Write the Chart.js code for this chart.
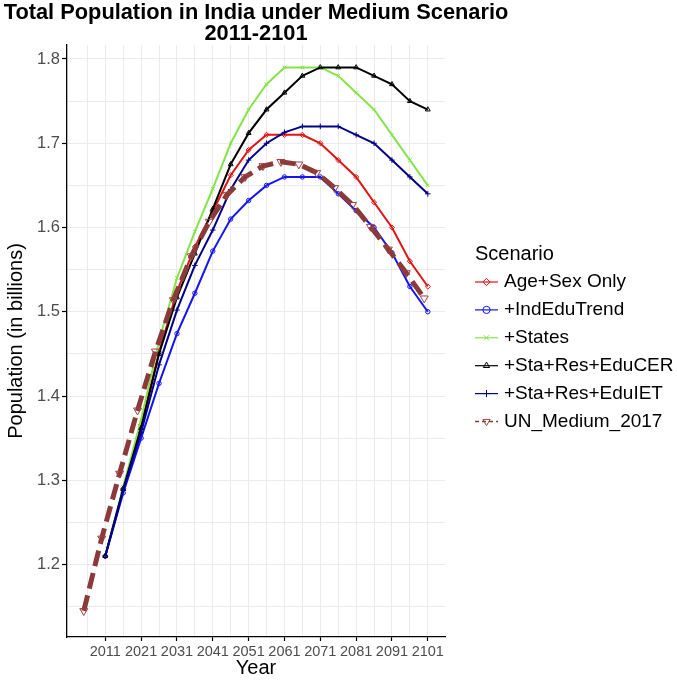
<!DOCTYPE html>
<html>
<head>
<meta charset="utf-8">
<script src="https://cdn.jsdelivr.net/npm/chart.js@4/dist/chart.umd.min.js"></script>
<style>
  html, body { margin: 0; padding: 0; background: #ffffff; }
  #c { display: block; }
</style>
</head>
<body>
<canvas id="c" width="677" height="680"></canvas>
<script>
// ---------- data ----------
const titleLines = ['Total Population in India under Medium Scenario', '2011-2101'];
const xAxisTitle = 'Year';
const yAxisTitle = 'Population (in billions)';
const legendTitle = 'Scenario';
const seriesNames = ['Age+Sex Only', '+IndEduTrend', '+States', '+Sta+Res+EduCER', '+Sta+Res+EduIET', 'UN_Medium_2017'];

const modelYears = [2011, 2016, 2021, 2026, 2031, 2036, 2041, 2046, 2051, 2056, 2061, 2066, 2071, 2076, 2081, 2086, 2091, 2096, 2101];
const unYears    = [2005, 2010, 2015, 2020, 2025, 2030, 2035, 2040, 2045, 2050, 2055, 2060, 2065, 2070, 2075, 2080, 2085, 2090, 2095, 2100];

const ageSexOnly  = [1.21, 1.29, 1.366, 1.452, 1.524, 1.577, 1.619, 1.662, 1.692, 1.71, 1.71, 1.71, 1.70, 1.68, 1.66, 1.63, 1.60, 1.56, 1.53];
const indEduTrend = [1.21, 1.285, 1.35, 1.415, 1.474, 1.522, 1.572, 1.61, 1.632, 1.65, 1.66, 1.66, 1.66, 1.64, 1.62, 1.60, 1.57, 1.53, 1.50];
const states      = [1.21, 1.292, 1.372, 1.465, 1.54, 1.595, 1.646, 1.70, 1.74, 1.77, 1.79, 1.79, 1.79, 1.78, 1.76, 1.74, 1.71, 1.68, 1.65];
const staResCER   = [1.21, 1.29, 1.362, 1.45, 1.517, 1.569, 1.622, 1.675, 1.712, 1.74, 1.76, 1.78, 1.79, 1.79, 1.79, 1.78, 1.77, 1.75, 1.74];
const staResIET   = [1.21, 1.288, 1.357, 1.437, 1.502, 1.555, 1.597, 1.645, 1.68, 1.70, 1.713, 1.72, 1.72, 1.72, 1.71, 1.70, 1.68, 1.66, 1.64];
const unMedium    = [1.145, 1.231, 1.308, 1.383, 1.453, 1.514, 1.566, 1.607, 1.639, 1.66, 1.673, 1.678, 1.675, 1.665, 1.647, 1.627, 1.601, 1.574, 1.546, 1.516];

const xTickValues = [2011, 2021, 2031, 2041, 2051, 2061, 2071, 2081, 2091, 2101];
const xTickLabels = ['2011', '2021', '2031', '2041', '2051', '2061', '2071', '2081', '2091', '2101'];
const yTickValues = [1.2, 1.3, 1.4, 1.5, 1.6, 1.7, 1.8];
const yTickLabels = ['1.2', '1.3', '1.4', '1.5', '1.6', '1.7', '1.8'];

// ---------- styling ----------
const FONT = "'Liberation Sans', Arial, Helvetica, sans-serif";
const colors = ['#E01414', '#1414F5', '#84E448', '#000000', '#00008B', '#8B3A3A'];
const shapes = [
  { style: 'rectRot', rot: 0, r: 2.6 },
  { style: 'circle', rot: 0, r: 2.2 },
  { style: 'crossRot', rot: 0, r: 2.6 },
  { style: 'triangle', rot: 0, r: 2.8 },
  { style: 'cross', rot: 0, r: 2.8 },
  { style: 'triangle', rot: 180, r: 4.6 }
];

const modelSeries = [ageSexOnly, indEduTrend, states, staResCER, staResIET];
const toPoints = (xs, ys) => xs.map((x, i) => ({ x: x, y: ys[i] }));

const datasets = modelSeries.map((vals, i) => ({
  label: seriesNames[i],
  data: toPoints(modelYears, vals),
  borderColor: colors[i],
  backgroundColor: colors[i],
  borderWidth: 2,
  tension: 0,
  pointStyle: shapes[i].style,
  pointRotation: shapes[i].rot,
  pointRadius: shapes[i].r,
  pointBorderWidth: 1,
  pointBorderColor: colors[i],
  pointBackgroundColor: 'rgba(0,0,0,0)',
  order: 5 - i
}));
datasets.push({
  label: seriesNames[5],
  data: toPoints(unYears, unMedium),
  borderColor: colors[5],
  backgroundColor: colors[5],
  borderWidth: 5,
  borderDash: [16, 7],
  borderCapStyle: 'butt',
  tension: 0,
  pointStyle: shapes[5].style,
  pointRotation: shapes[5].rot,
  pointRadius: shapes[5].r,
  pointBorderWidth: 1,
  pointBorderColor: '#9E4040',
  pointBackgroundColor: 'rgba(0,0,0,0)',
  order: 0
});

// grid positions: major ticks plus the minor breaks between them
const xGrid = [xTickValues[0] - 5];
xTickValues.forEach((v, i) => { xGrid.push(v); if (i < xTickValues.length - 1) xGrid.push(v + 5); });
const yGrid = [Math.round((yTickValues[0] - 0.05) * 100) / 100];
yTickValues.forEach((v, i) => { yGrid.push(v); if (i < yTickValues.length - 1) yGrid.push(Math.round((v + 0.05) * 100) / 100); });

const majorIndex = (arr, v) => arr.findIndex(a => Math.abs(a - v) < 1e-6);

// ---------- ggplot-like title and legend ----------
const ggDecor = {
  id: 'ggDecor',
  afterDraw(chart) {
    const ctx = chart.ctx;
    const area = chart.chartArea;
    ctx.save();
    // title, centred over the panel
    ctx.textBaseline = 'middle';
    ctx.textAlign = 'center';
    ctx.fillStyle = '#000';
    ctx.font = 'bold 21.8px ' + FONT;
    const cx = (area.left + area.right) / 2;
    ctx.fillText(titleLines[0], cx, 13);
    ctx.fillText(titleLines[1], cx, 34);

    // legend
    ctx.textAlign = 'left';
    ctx.font = '20px ' + FONT;
    ctx.fillText(legendTitle, 475, 254);
    ctx.font = '19px ' + FONT;
    seriesNames.forEach((name, i) => {
      const y = 282 + i * 27.9;
      ctx.strokeStyle = colors[i];
      ctx.lineWidth = i === 5 ? 1.4 : 1.2;
      ctx.setLineDash(i === 5 ? [4, 3] : []);
      ctx.beginPath();
      ctx.moveTo(475, y);
      ctx.lineTo(498, y);
      ctx.stroke();
      ctx.setLineDash([]);
      ctx.fillStyle = 'rgba(0,0,0,0)';
      ctx.strokeStyle = i === 5 ? '#9E4040' : colors[i];
      ctx.lineWidth = 1;
      Chart.helpers.drawPoint(ctx, {
        pointStyle: shapes[i].style,
        rotation: shapes[i].rot,
        radius: i === 5 ? 4.2 : 3.6,
        borderWidth: 1
      }, 486.5, y);
      ctx.fillStyle = '#000';
      ctx.fillText(name, 504, y);
    });
    ctx.restore();
  }
};

new Chart(document.getElementById('c').getContext('2d'), {
  type: 'line',
  data: { datasets: datasets },
  options: {
    responsive: false,
    animation: false,
    devicePixelRatio: 1,
    layout: { padding: { left: 0, right: 232, top: 45, bottom: 0 } },
    plugins: {
      legend: { display: false },
      tooltip: { enabled: false },
      title: { display: false }
    },
    scales: {
      x: {
        type: 'linear',
        min: 2000.32,
        max: 2105.8,
        afterBuildTicks: (s) => { s.ticks = xGrid.map(v => ({ value: v })); },
        afterFit: (s) => { s.height = 43; },
        ticks: {
          autoSkip: false,
          maxRotation: 0,
          padding: 2,
          color: '#4D4D4D',
          font: { family: FONT, size: 14.5 },
          callback: (v) => { const k = majorIndex(xTickValues, v); return k >= 0 ? xTickLabels[k] : ''; }
        },
        grid: {
          color: '#EBEBEB',
          lineWidth: 1,
          tickLength: 4,
          tickWidth: 1.2,
          tickColor: (c) => (c.tick && majorIndex(xTickValues, c.tick.value) >= 0) ? '#000' : 'rgba(0,0,0,0)'
        },
        border: { display: true, color: '#000', width: 1.3 },
        title: {
          display: true,
          text: xAxisTitle,
          color: '#000',
          font: { family: FONT, size: 20, lineHeight: 1.2 },
          padding: { top: 0, bottom: 0 }
        }
      },
      y: {
        type: 'linear',
        min: 1.114,
        max: 1.8166,
        afterBuildTicks: (s) => { s.ticks = yGrid.map(v => ({ value: v })); },
        afterFit: (s) => { s.width = 67; },
        ticks: {
          autoSkip: false,
          padding: 2,
          color: '#4D4D4D',
          font: { family: FONT, size: 16.5 },
          callback: (v) => { const k = majorIndex(yTickValues, v); return k >= 0 ? yTickLabels[k] : ''; }
        },
        grid: {
          color: '#EBEBEB',
          lineWidth: 1,
          tickLength: 5,
          tickWidth: 1.2,
          tickColor: (c) => (c.tick && majorIndex(yTickValues, c.tick.value) >= 0) ? '#000' : 'rgba(0,0,0,0)'
        },
        border: { display: true, color: '#000', width: 1.3 },
        title: {
          display: true,
          text: yAxisTitle,
          color: '#000',
          font: { family: FONT, size: 20, lineHeight: 1.2 },
          padding: { top: 4, bottom: 0 }
        }
      }
    }
  },
  plugins: [ggDecor]
});
</script>
</body>
</html>
